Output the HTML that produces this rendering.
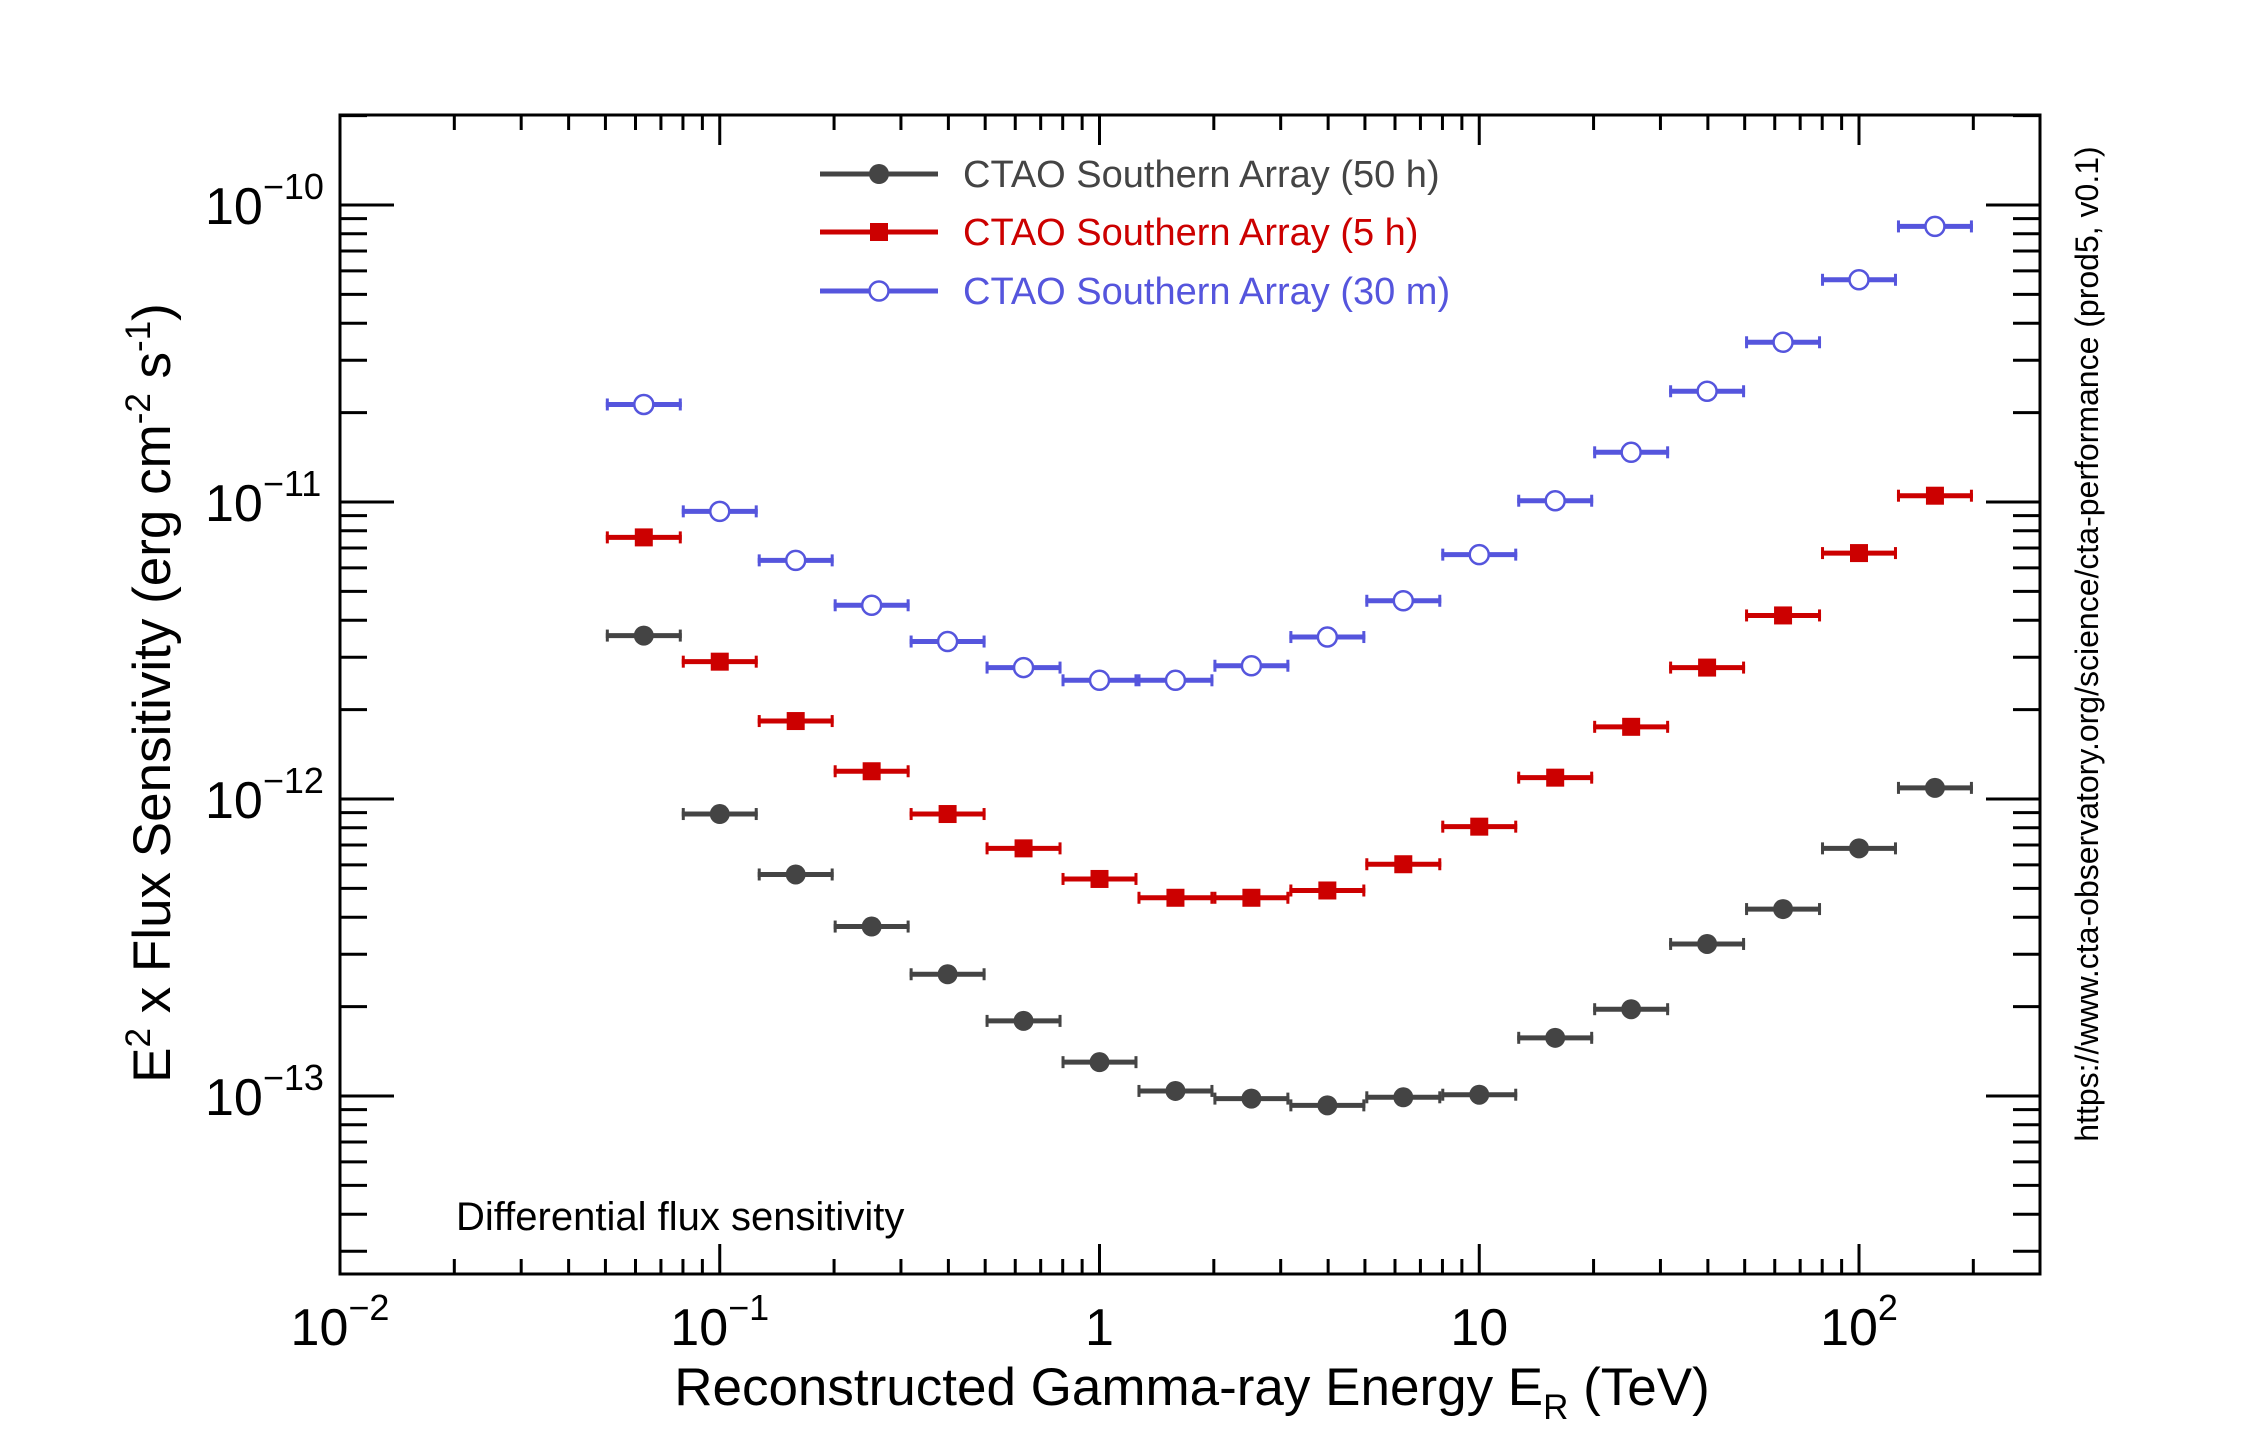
<!DOCTYPE html>
<html><head><meta charset="utf-8"><style>
html,body{margin:0;padding:0;background:#fff;}
svg{display:block;font-family:"Liberation Sans",Arial,sans-serif;}
</style></head><body>
<svg id="chart" width="2268" height="1448" viewBox="0 0 2268 1448" xmlns="http://www.w3.org/2000/svg">
<rect width="2268" height="1448" fill="#fff"/>
<g id="ticks"></g>
<g id="series"></g>
<rect x="340" y="115" width="1700" height="1159" fill="none" stroke="#000" stroke-width="3"/>
<g id="labels" font-size="52"></g>
<text x="1192" y="1405" font-size="53" text-anchor="middle">Reconstructed Gamma-ray Energy E<tspan dy="14" font-size="35">R</tspan><tspan dy="-14"> (TeV)</tspan></text>
<text transform="translate(170,693) rotate(-90)" font-size="53" text-anchor="middle">E<tspan dy="-20" font-size="35">2</tspan><tspan dy="20"> x Flux Sensitivity (erg cm</tspan><tspan dy="-20" font-size="35">-2</tspan><tspan dy="20"> s</tspan><tspan dy="-20" font-size="35">-1</tspan><tspan dy="20">)</tspan></text>
<text transform="translate(2098,644) rotate(-90)" font-size="32" text-anchor="middle">https://www.cta-observatory.org/science/cta-performance (prod5, v0.1)</text>
<text x="456" y="1230" font-size="40">Differential flux sensitivity</text>
<g id="legend"></g>
</svg>
<script>
const logE = [-1.2,-1.0,-0.8,-0.6,-0.4,-0.2,0,0.2,0.4,0.6,0.8,1.0,1.2,1.4,1.6,1.8,2.0,2.2];
const sens50h = [3.55e-12,8.9e-13,5.57e-13,3.72e-13,2.57e-13,1.79e-13,1.30e-13,1.04e-13,9.8e-14,9.3e-14,9.9e-14,1.01e-13,1.57e-13,1.96e-13,3.25e-13,4.26e-13,6.82e-13,1.09e-12];
const sens5h = [7.6e-12,2.9e-12,1.83e-12,1.24e-12,8.9e-13,6.82e-13,5.38e-13,4.65e-13,4.65e-13,4.92e-13,6.03e-13,8.07e-13,1.18e-12,1.75e-12,2.77e-12,4.15e-12,6.73e-12,1.05e-11];
const sens30m = [2.13e-11,9.3e-12,6.36e-12,4.49e-12,3.39e-12,2.77e-12,2.51e-12,2.51e-12,2.81e-12,3.51e-12,4.65e-12,6.65e-12,1.01e-11,1.47e-11,2.36e-11,3.45e-11,5.6e-11,8.47e-11];
const seriesNames = ["CTAO Southern Array (50 h)","CTAO Southern Array (5 h)","CTAO Southern Array (30 m)"];
const xTickExp = [-2,-1,0,1,2];
const xTickLabels = [["10","\u22122"],["10","\u22121"],["1",""],["10",""],["10","2"]];
const yTickExp = [-10,-11,-12,-13];
const yTickLabels = [["10","\u221210"],["10","\u221211"],["10","\u221212"],["10","\u221213"]];

const NS="http://www.w3.org/2000/svg";
const X0=340,X1=2040,Y0=115,Y1=1274;
function xs(le){return 340+(le+2)*379.75;}
function ys(v){return 205+(-10-Math.log10(v))*297;}
function mk(tag,attrs,parent){const e=document.createElementNS(NS,tag);for(const k in attrs)e.setAttribute(k,attrs[k]);parent.appendChild(e);return e;}

const tg=document.getElementById('ticks');
for(let d=-2;d<=2;d++){for(let m=1;m<=9;m++){const le=d+Math.log10(m);const x=xs(le);if(x>X1)continue;const L=m===1?30:15;
 let t=mk('line',{x1:x,x2:x,y1:Y1,y2:Y1-L,stroke:'#000','stroke-width':3},tg);
 
 
 let t2=mk('line',{x1:x,x2:x,y1:Y0,y2:Y0+L,stroke:'#000','stroke-width':3},tg);
 
 }}
for(let d=-14;d<=-10;d++){for(let m=1;m<=9;m++){const v=m*Math.pow(10,d);const y=ys(v);if(y<Y0||y>Y1)continue;const L=m===1?54:27;
 let t=mk('line',{x1:X0,x2:X0+L,y1:y,y2:y,stroke:'#000','stroke-width':3},tg);
 
 
 let t2=mk('line',{x1:X1,x2:X1-L,y1:y,y2:y,stroke:'#000','stroke-width':3},tg);
 
 }}

const lg=document.getElementById('labels');
xTickExp.forEach((e,i)=>{const t=mk('text',{x:xs(e),y:1345,'text-anchor':'middle'},lg);
 
 
 t.textContent=xTickLabels[i][0];
 if(xTickLabels[i][1]){const s=mk('tspan',{dy:-25,'font-size':36},t);s.textContent=xTickLabels[i][1];}});
yTickExp.forEach((e,i)=>{const y=ys(Math.pow(10,e));const t=mk('text',{x:205,y:y+19,'text-anchor':'start'},lg);
 
 
 t.textContent=yTickLabels[i][0];
 const s=mk('tspan',{dy:-25,'font-size':36},t);s.textContent=yTickLabels[i][1];});

const colors=["#444444","#cc0000","#5555dd"];
const data=[sens50h,sens5h,sens30m];
const shapes=["circle","square","open"];
const sg=document.getElementById('series');
function marker(g,shape,x,y,c){
 if(shape==="square"){return mk('rect',{x:x-9,y:y-9,width:18,height:18,fill:c},g);}
 if(shape==="open"){return mk('circle',{cx:x,cy:y,r:9.5,fill:'#fff',stroke:c,'stroke-width':2.5},g);}
 return mk('circle',{cx:x,cy:y,r:10,fill:c},g);}
data.forEach((arr,si)=>{const g=mk('g',{},sg);
 
 
 arr.forEach((v,i)=>{const xl=xs(logE[i]-0.1),xr=xs(logE[i]+0.1),xc=xs(logE[i]),y=ys(v);
  const l=mk('line',{x1:xl,x2:xr,y1:y,y2:y,stroke:colors[si],'stroke-width':5},g);
  
  
  mk('line',{x1:xl+1.5,x2:xl+1.5,y1:y-6,y2:y+6,stroke:colors[si],'stroke-width':3},g);
  mk('line',{x1:xr-1.5,x2:xr-1.5,y1:y-6,y2:y+6,stroke:colors[si],'stroke-width':3},g);
  const m=marker(g,shapes[si],xc,y,colors[si]);
  
  });});

const leg=document.getElementById('legend');
[174,232,291].forEach((y,i)=>{const g=mk('g',{},leg);
 
 
 mk('line',{x1:820,x2:938,y1:y,y2:y,stroke:colors[i],'stroke-width':5},g);
 marker(g,shapes[i],879,y,colors[i]);
 const t=mk('text',{x:963,y:y+13,'font-size':38,fill:colors[i]},g);t.textContent=seriesNames[i];});
</script>
</body></html>
